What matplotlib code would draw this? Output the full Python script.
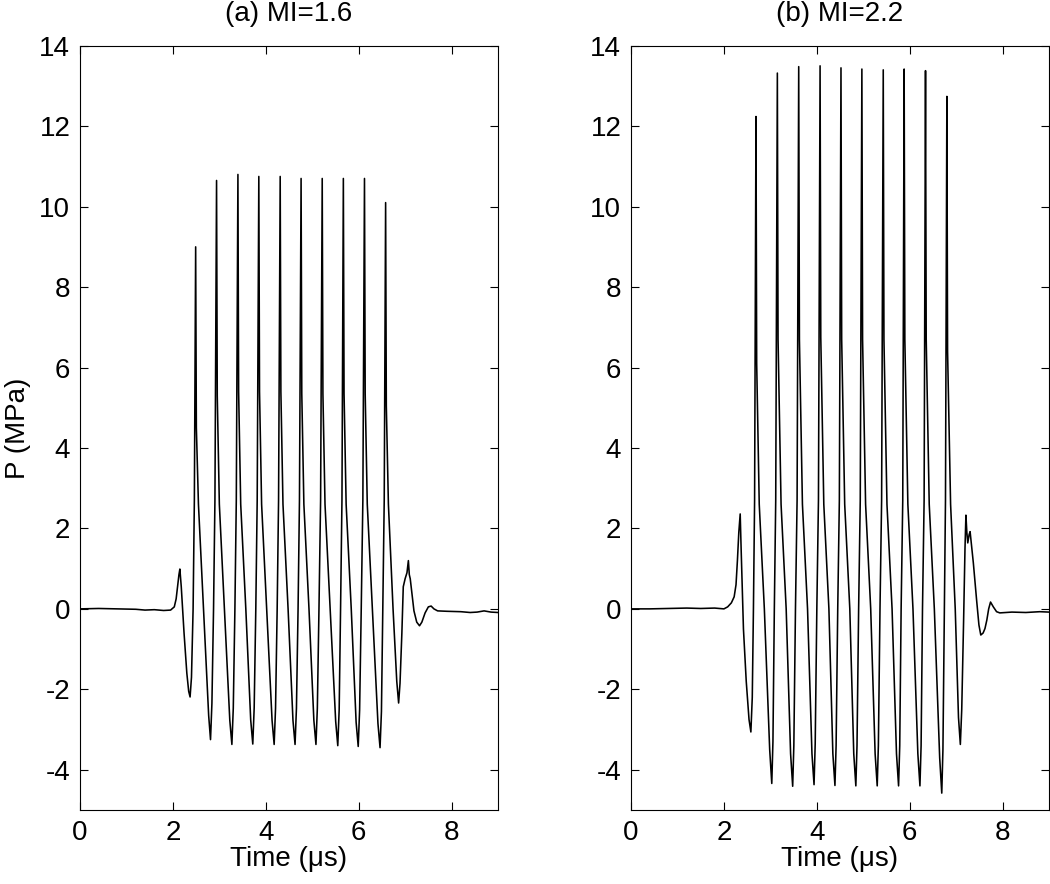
import matplotlib
matplotlib.use("Agg")
import matplotlib.pyplot as plt

# (a) MI=1.6 -- waveform vertices (time in us, pressure in MPa)
t_a = [0.00, 0.40, 0.80, 1.20, 1.40, 1.60, 1.80, 1.95, 2.03, 2.07, 2.10, 2.13, 2.15, 2.18, 2.24, 2.30, 2.34,
       2.37, 2.40, 2.435, 2.462, 2.49, 2.505, 2.55, 2.66, 2.77,
       2.81, 2.84, 2.875, 2.905, 2.94, 2.955, 3.00, 3.11, 3.225,
       3.27, 3.30, 3.335, 3.365, 3.40, 3.415, 3.46, 3.57, 3.675,
       3.72, 3.75, 3.785, 3.815, 3.85, 3.865, 3.91, 4.02, 4.135,
       4.18, 4.21, 4.245, 4.275, 4.31, 4.325, 4.37, 4.48, 4.585,
       4.63, 4.66, 4.695, 4.725, 4.76, 4.775, 4.82, 4.93, 5.035,
       5.08, 5.11, 5.145, 5.18, 5.215, 5.23, 5.275, 5.385, 5.505,
       5.55, 5.58, 5.61, 5.64, 5.67, 5.685, 5.73, 5.84, 5.945,
       5.99, 6.02, 6.055, 6.09, 6.125, 6.14, 6.185, 6.295, 6.415,
       6.46, 6.49, 6.52, 6.55, 6.58, 6.595, 6.64, 6.74, 6.82,
       6.86, 6.89, 6.93, 6.96, 7.00, 7.04, 7.07, 7.09, 7.11, 7.14, 7.19, 7.25, 7.31, 7.36, 7.43,
       7.50, 7.56, 7.62, 7.70, 7.90, 8.20, 8.40, 8.55, 8.70, 8.85, 9.00]
p_a = [0.00, 0.01, 0.00, -0.01, -0.03, -0.02, -0.04, -0.03, 0.05, 0.25, 0.55, 0.85, 0.99, 0.55, -0.60, -1.60, -2.05,
       -2.19, -1.70, 0.00, 2.70, 9.00, 4.50, 2.60, 0.00, -2.65,
       -3.25, -2.35, 0.00, 2.70, 10.65, 5.30, 2.60, 0.00, -2.77,
       -3.37, -2.47, 0.00, 2.70, 10.80, 5.40, 2.60, 0.00, -2.76,
       -3.36, -2.46, 0.00, 2.70, 10.75, 5.40, 2.60, 0.00, -2.77,
       -3.37, -2.47, 0.00, 2.70, 10.75, 5.40, 2.60, 0.00, -2.77,
       -3.37, -2.47, 0.00, 2.70, 10.70, 5.35, 2.60, 0.00, -2.77,
       -3.37, -2.47, 0.00, 2.70, 10.70, 5.35, 2.60, 0.00, -2.80,
       -3.40, -2.50, 0.00, 2.70, 10.70, 5.35, 2.60, 0.00, -2.82,
       -3.42, -2.52, 0.00, 2.70, 10.70, 5.35, 2.60, 0.00, -2.85,
       -3.45, -2.55, 0.00, 2.70, 10.10, 5.05, 2.60, 0.00, -1.80,
       -2.34, -1.85, -0.60, 0.55, 0.75, 0.90, 1.20, 0.85, 0.75, 0.45, -0.05, -0.33, -0.42, -0.33, -0.10,
       0.05, 0.07, 0.00, -0.05, -0.06, -0.07, -0.09, -0.08, -0.05, -0.08, -0.09]

# (b) MI=2.2
t_b = [0.00, 0.40, 0.80, 1.20, 1.50, 1.80, 2.00, 2.08, 2.16, 2.22, 2.26, 2.29, 2.32, 2.35,
       2.37, 2.42, 2.48, 2.54,
       2.58, 2.61, 2.635, 2.66, 2.69, 2.705, 2.76, 2.87, 2.985,
       3.03, 3.055, 3.085, 3.115, 3.15, 3.165, 3.23, 3.34, 3.435,
       3.48, 3.505, 3.54, 3.575, 3.61, 3.625, 3.69, 3.80, 3.895,
       3.94, 3.965, 4.00, 4.035, 4.07, 4.085, 4.15, 4.26, 4.345,
       4.39, 4.415, 4.45, 4.485, 4.52, 4.535, 4.60, 4.71, 4.795,
       4.84, 4.865, 4.90, 4.935, 4.97, 4.985, 5.05, 5.16, 5.255,
       5.30, 5.325, 5.36, 5.395, 5.43, 5.445, 5.51, 5.62, 5.715,
       5.76, 5.785, 5.815, 5.85, 5.88, 5.895, 5.96, 6.07, 6.175,
       6.22, 6.245, 6.275, 6.31, 6.34, 6.355, 6.42, 6.53, 6.645,
       6.69, 6.715, 6.745, 6.77, 6.80, 6.815, 6.88, 6.98, 7.05,
       7.09, 7.12, 7.16, 7.19, 7.21, 7.23, 7.25, 7.28, 7.30, 7.37, 7.44, 7.49, 7.53, 7.58, 7.62,
       7.66, 7.70, 7.74, 7.80, 7.87, 7.94, 8.20, 8.50, 8.80, 9.00]
p_b = [0.00, 0.00, 0.01, 0.02, 0.01, 0.02, 0.00, 0.05, 0.15, 0.30, 0.60, 1.20, 1.90, 2.36,
       1.50, -0.50, -1.80, -2.75,
       -3.06, -2.20, 0.00, 2.70, 12.24, 6.10, 2.60, 0.00, -3.50,
       -4.34, -3.30, 0.00, 2.70, 13.32, 6.70, 2.60, 0.00, -3.60,
       -4.41, -3.40, 0.00, 2.70, 13.48, 6.70, 2.60, 0.00, -3.60,
       -4.37, -3.35, 0.00, 2.70, 13.50, 6.75, 2.60, 0.00, -3.60,
       -4.39, -3.40, 0.00, 2.70, 13.45, 6.70, 2.60, 0.00, -3.60,
       -4.40, -3.40, 0.00, 2.70, 13.42, 6.70, 2.60, 0.00, -3.60,
       -4.40, -3.40, 0.00, 2.70, 13.40, 6.70, 2.60, 0.00, -3.60,
       -4.40, -3.40, 0.00, 2.70, 13.42, 6.70, 2.60, 0.00, -3.60,
       -4.40, -3.40, 0.00, 2.70, 13.38, 6.70, 2.60, 0.00, -3.70,
       -4.58, -3.50, 0.00, 2.70, 12.74, 6.40, 2.60, 0.00, -2.70,
       -3.37, -2.50, -0.30, 1.50, 2.33, 1.90, 1.64, 1.85, 1.92, 1.14, 0.22, -0.40, -0.65, -0.60, -0.49,
       -0.28, 0.00, 0.17, 0.05, -0.07, -0.10, -0.08, -0.09, -0.07, -0.08]

titles = ['(a) MI=1.6', '(b) MI=2.2']
x_ticks = [0, 2, 4, 6, 8]
y_ticks = [-4, -2, 0, 2, 4, 6, 8, 10, 12, 14]

plt.rcParams['font.family'] = ['Liberation Sans', 'DejaVu Sans']
plt.rcParams['font.size'] = 20
plt.rcParams['axes.unicode_minus'] = False

fig = plt.figure(figsize=(10.5, 8.84), dpi=100)
ax_a = fig.add_axes([0.0762, 0.0837, 0.3981, 0.8646])
ax_b = fig.add_axes([0.6010, 0.0837, 0.3981, 0.8646])

for ax, t, p, title in zip([ax_a, ax_b], [t_a, t_b], [p_a, p_b], titles):
    ax.plot(t, p, color='k', linewidth=1.15)
    ax.set_xlim(0, 9)
    ax.set_ylim(-5, 14)
    ax.set_xticks(x_ticks)
    ax.set_yticks(y_ticks)
    ax.tick_params(direction='in', length=6, width=0.8, top=True, right=True, pad=7)
    ax.set_xlabel('Time (\u03bcs)', labelpad=0)
    ax.set_title(title, fontsize=20, pad=18)
    for s in ax.spines.values():
        s.set_linewidth(0.8)

ax_a.set_ylabel('P (MPa)', labelpad=6)

fig.savefig('out.png', dpi=100)
